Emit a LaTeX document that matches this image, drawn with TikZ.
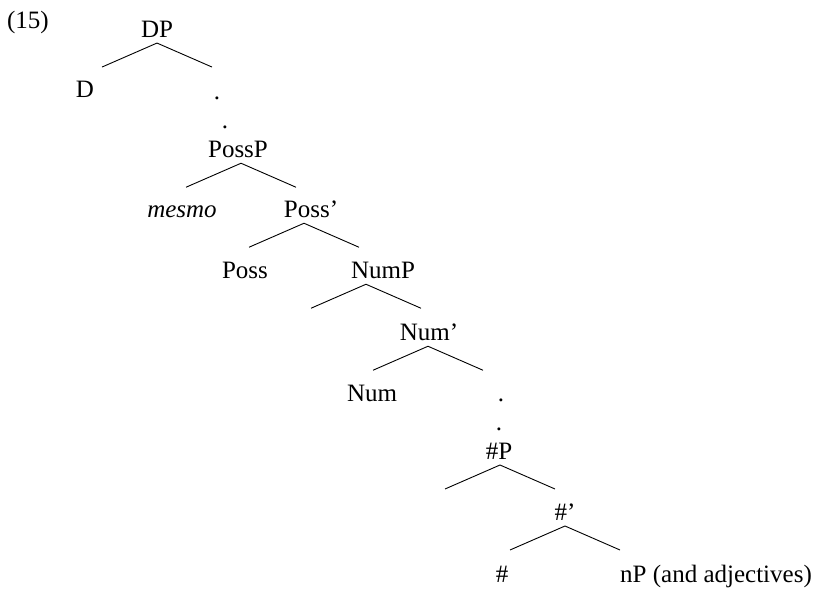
\documentclass[tikz,border=0pt]{standalone}
\usepackage{fontspec}
\setmainfont{Liberation Serif}

\begin{document}
\begin{tikzpicture}[x=1pt,y=-1pt,line width=0.9pt,
                    every node/.style={inner sep=0pt,outer sep=0pt,anchor=base,
                                       font=\fontsize{25}{30}\selectfont}]
    \useasboundingbox (0,0) rectangle (822,589);

    \node (ex)      at (28,28)   {(15)};
    \node (DP)      at (157,37)  {DP};
    \node (D)       at (85,97)   {D};
    \node (dotA)    at (217,99)  {.};
    \node (dotB)    at (225,128) {.};
    \node (PossP)   at (238,157) {PossP};
    \node (mesmo)   at (182,217) {\itshape mesmo};
    \node (Possbar) at (311,217) {Poss'};
    \node (Poss)    at (245,278) {Poss};
    \node (NumP)    at (383,278) {NumP};
    \node (Numbar)  at (429,340) {Num'};
    \node (Num)     at (372,401) {Num};
    \node (dotC)    at (501,401) {.};
    \node (dotD)    at (499,430) {.};
    \node (numP)    at (499,459) {\#P};
    \node (numbar)  at (565,520) {\#'};
    \node (num)     at (502,582) {\#};
    \node (nP)      at (716,582) {nP (and adjectives)};

    % branches hang under each phrase label
    \foreach \p/\dx in {DP/0,PossP/3,Possbar/-7,NumP/-17,Numbar/-1,numP/1,numbar/0}
        \draw ([xshift=\dx pt,yshift=-6pt]\p.south) -- ++(-55,24) coordinate (\p-l)
              ([xshift=\dx pt,yshift=-6pt]\p.south) -- ++(55,24)  coordinate (\p-r);
\end{tikzpicture}
\end{document}
